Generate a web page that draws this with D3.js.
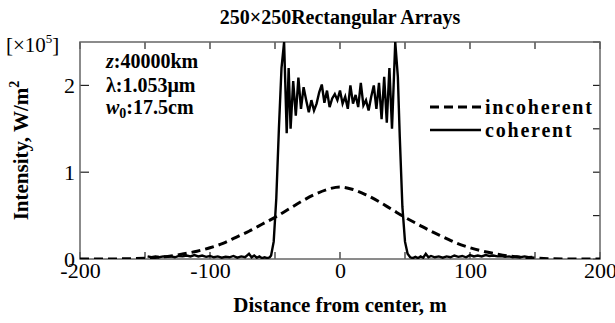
<!DOCTYPE html>
<html><head><meta charset="utf-8">
<script src="https://cdn.jsdelivr.net/npm/d3@7"></script>
<style>
body{margin:0;background:#fff;}
svg{display:block;}
text{font-family:"Liberation Serif","Times New Roman",serif;fill:#000;}
</style></head><body>
<script>
// ---- data ----
const xTicks = [-200, -100, 0, 100, 200];
const yTicks = [0, 1, 2];
const incoherentX = [-200,-180,-160,-150,-140,-130,-120,-110,-100,-90,-80,-70,-60,-50,-40,-30,-20,-10,0,10,20,30,40,50,60,70,80,90,100,110,120,130,140,150,160,180,200];
const incoherentY = [0,0,0.004,0.01,0.02,0.035,0.06,0.09,0.13,0.18,0.25,0.32,0.4,0.48,0.57,0.66,0.74,0.8,0.83,0.8,0.74,0.66,0.57,0.48,0.4,0.32,0.25,0.18,0.13,0.09,0.06,0.035,0.02,0.01,0.004,0,0];
const coherentX = [-148,-145,-142,-139,-136,-133,-130,-127,-124,-121,-118,-115,-112,-109,-106,-103,-100,-97,-94,-91,-88,-85,-82,-79,-76,-73,-70,-68,-66,-64,-62,-60,-58,-56,-54,
 -53,-51,-49,-47,-45,-43,-41,-39.5,-38,-36,-34,-32,-30,-28,-26,-24,-22,-20,-18,-16,-14,-12,-10,-8,-6,-4,-2,0,2,4,6,8,10,12,14,16,18,20,22,24,26,28,30,32,34,36,38,40,42.5,44.5,46,48,50,52,
 54,56,58,60,62,64,66,68,70,73,76,79,82,85,88,91,94,97,100,103,106,109,112,115,118,121,124,127,130,133,136,139,142,145,148];
const coherentY = [0.03,0.02,0.03,0.02,0.03,0.025,0.03,0.02,0.035,0.03,0.04,0.03,0.045,0.03,0.04,0.025,0.035,0.02,0.03,0.015,0.025,0.02,0.035,0.015,0.03,0.02,0.06,0.02,0.04,0.015,0.03,0.01,0.02,0.01,0.02,
 0.04,0.2,0.7,1.5,2.2,2.5,1.45,2.2,1.5,2.05,1.65,2.09,1.73,1.98,1.83,1.69,1.83,1.71,1.79,1.92,2.01,1.8,1.94,1.75,1.85,1.9,1.83,1.94,1.79,1.87,1.73,2.0,1.79,1.89,1.75,2.03,1.77,1.83,1.71,1.87,2.0,1.73,2.03,1.61,2.1,1.57,2.2,1.5,2.5,2.1,1.4,0.6,0.2,0.06,
 0.02,0.01,0.025,0.01,0.03,0.015,0.06,0.02,0.035,0.02,0.03,0.015,0.03,0.02,0.04,0.025,0.035,0.02,0.045,0.03,0.04,0.03,0.045,0.035,0.04,0.03,0.035,0.025,0.03,0.02,0.03,0.02,0.03,0.02,0.025];

const W = 615, H = 323;
const m = {left: 80, right: 15, top: 42, bottom: 64};
const svg = d3.select("body").append("svg").attr("width", W).attr("height", H);
const x = d3.scaleLinear().domain([-200, 200]).range([m.left, W - m.right]);
const y = d3.scaleLinear().domain([0, 2.5]).range([H - m.bottom, m.top]);

const frame = "#666";
svg.append("clipPath").attr("id","clip").append("rect")
  .attr("x", m.left).attr("y", m.top-2).attr("width", x(200)-x(-200)).attr("height", y(0)-y(2.5)+2);

// axes
const gx = svg.append("g").attr("transform", `translate(0,${y(0)})`)
  .call(d3.axisBottom(x).tickValues(xTicks).tickSize(0).tickPadding(3).tickFormat(d => String(d)));
gx.selectAll("text").style("font-size","22px");
gx.select(".domain").remove();
const gy = svg.append("g").attr("transform", `translate(${m.left},0)`)
  .call(d3.axisLeft(y).tickValues(yTicks).tickSize(0).tickPadding(5).tickFormat(d => String(d)));
gy.selectAll("text").style("font-size","22px");
gy.select(".domain").remove();

// ticks inward
const tk = svg.append("g").attr("stroke","#222").attr("stroke-width",1.2);
d3.range(-200, 201, 50).forEach(v => {
  tk.append("line").attr("x1",x(v)).attr("x2",x(v)).attr("y1",y(0)).attr("y2",y(0)-7);
  tk.append("line").attr("x1",x(v)).attr("x2",x(v)).attr("y1",y(2.5)).attr("y2",y(2.5)+7);
});
yTicks.forEach(v => {
  tk.append("line").attr("x1",x(-200)).attr("x2",x(-200)+9).attr("y1",y(v)).attr("y2",y(v));
});
d3.range(0, 2.51, 0.5).forEach(v => {
  tk.append("line").attr("x1",x(200)).attr("x2",x(200)-7).attr("y1",y(v)).attr("y2",y(v));
});

// frame
svg.append("rect").attr("x", x(-200)).attr("y", y(2.5)).attr("width", x(200)-x(-200)).attr("height", y(0)-y(2.5))
  .attr("fill","none").attr("stroke",frame).attr("stroke-width",1.5);

// lines
const incData = incoherentX.map((d,i)=>[d, incoherentY[i]]);
const cohData = coherentX.map((d,i)=>[d, coherentY[i]]);
const line = d3.line().x(d=>x(d[0])).y(d=>y(d[1]));
const lineSmooth = d3.line().x(d=>x(d[0])).y(d=>y(d[1])).curve(d3.curveMonotoneX);
const plot = svg.append("g").attr("clip-path","url(#clip)");
plot.append("path").datum(incData).attr("d", lineSmooth).attr("fill","none").attr("stroke","#000")
  .attr("stroke-width",3).attr("stroke-dasharray","9,5");
plot.append("path").datum(cohData).attr("d", line).attr("fill","none").attr("stroke","#000")
  .attr("stroke-width",2.4).attr("stroke-linejoin","miter");

// title
svg.append("text").attr("x", x(0)).attr("y", 24).attr("text-anchor","middle")
  .style("font-size","20px").style("font-weight","bold").text("250×250Rectangular Arrays");

// x label
svg.append("text").attr("x", x(0)).attr("y", 312).attr("text-anchor","middle")
  .style("font-size","21px").style("font-weight","bold").text("Distance from center, m");

// y label
const yl = svg.append("text").attr("transform", `translate(28,${(y(0)+y(2.5))/2}) rotate(-90)`)
  .attr("text-anchor","middle").style("font-size","21px").style("font-weight","bold");
yl.append("tspan").text("Intensity, W/m");
yl.append("tspan").attr("dy",-9).style("font-size","14px").text("2");

// exponent
const ex = svg.append("text").attr("x", 6).attr("y", 52).style("font-size","21px");
ex.append("tspan").text("[×10");
ex.append("tspan").attr("dy",-9).style("font-size","13px").text("5");
ex.append("tspan").attr("dy",9).text("]");

// annotation
const ann = svg.append("g").style("font-size","20px").style("font-weight","bold");
const a1 = ann.append("text").attr("x",106).attr("y",68);
a1.append("tspan").style("font-style","italic").text("z");
a1.append("tspan").text(":40000km");
ann.append("text").attr("x",106).attr("y",92).text("λ:1.053μm");
const a3 = ann.append("text").attr("x",106).attr("y",114);
a3.append("tspan").style("font-style","italic").text("w");
a3.append("tspan").attr("dy",4).style("font-size","14px").text("0");
a3.append("tspan").attr("dy",-4).text(":17.5cm");

// legend
const lg = svg.append("g");
lg.append("line").attr("x1",430).attr("x2",481).attr("y1",107).attr("y2",107)
  .attr("stroke","#000").attr("stroke-width",3).attr("stroke-dasharray","9,5");
lg.append("line").attr("x1",430).attr("x2",481).attr("y1",130).attr("y2",130)
  .attr("stroke","#000").attr("stroke-width",2.4);
lg.append("text").attr("x",485).attr("y",114).style("font-size","20px").style("font-weight","bold")
  .style("letter-spacing","1.8px").text("incoherent");
lg.append("text").attr("x",485).attr("y",137).style("font-size","20px").style("font-weight","bold")
  .style("letter-spacing","1.8px").text("coherent");
</script>
</body></html>
